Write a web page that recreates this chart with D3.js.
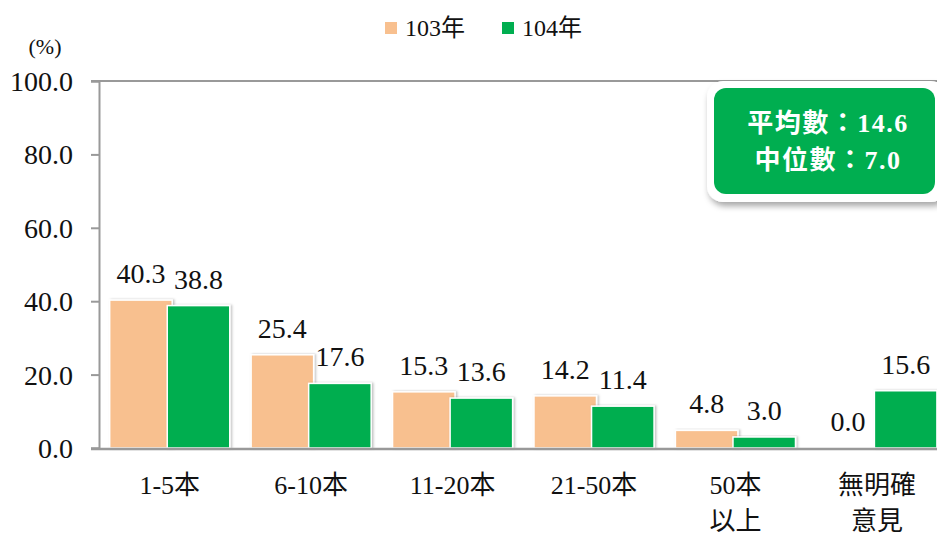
<!DOCTYPE html>
<html>
<head>
<meta charset="utf-8">
<script src="https://cdn.jsdelivr.net/npm/d3@7/dist/d3.min.js"></script>
<style>
html,body{margin:0;padding:0;background:#fff;}
svg{display:block;}
</style>
</head>
<body>
<script>
const categories = ["1-5本", "6-10本", "11-20本", "21-50本", "50本\n以上", "無明確\n意見"];
const series103 = [40.3, 25.4, 15.3, 14.2, 4.8, 0.0];
const series104 = [38.8, 17.6, 13.6, 11.4, 3.0, 15.6];
const seriesNames = ["103年", "104年"];
const yTicks = [0, 20, 40, 60, 80, 100];
const statLines = ["平均數：14.6", "中位數：7.0"];

const W = 937, H = 537;
const colors = ["#F8C08F", "#00AE50"];
const serif = "'Liberation Serif','Times New Roman','Noto Sans CJK TC',serif";
const axisColor = "#999999";

const svg = d3.select("body").append("svg").attr("width", W).attr("height", H);

const defs = svg.append("defs");
const f1 = defs.append("filter").attr("id","barShadow").attr("x","-10%").attr("y","-10%").attr("width","130%").attr("height","130%");
f1.append("feDropShadow").attr("dx",1.5).attr("dy",0).attr("stdDeviation",1.2).attr("flood-color","#000").attr("flood-opacity",0.25);
const f2 = defs.append("filter").attr("id","boxShadow").attr("x","-20%").attr("y","-20%").attr("width","140%").attr("height","150%");
f2.append("feDropShadow").attr("dx",2).attr("dy",4).attr("stdDeviation",3).attr("flood-color","#000").attr("flood-opacity",0.35);

const y = d3.scaleLinear().domain([0, 100]).range([448, 81]);
const x = d3.scaleBand().domain(categories).range([99, 947.6]).paddingInner(0).paddingOuter(0);
const bw = x.bandwidth();
const barW = bw * 0.442;
const step2 = bw * 0.407;
const off0 = (bw - (step2 + barW)) / 2;

// top border line and y ticks
svg.append("line").attr("x1",91).attr("x2",W).attr("y1",y(100)).attr("y2",y(100))
  .attr("stroke",axisColor).attr("stroke-width",2);

const yAxis = d3.axisLeft(y).tickValues(yTicks).tickFormat(d3.format(".1f")).tickSize(8).tickPadding(18);
const gy = svg.append("g").attr("transform","translate(99,0)").call(yAxis);
gy.select(".domain").attr("stroke",axisColor).attr("stroke-width",2);
gy.selectAll(".tick line").attr("stroke",axisColor).attr("stroke-width",2);
gy.selectAll(".tick text").attr("font-family",serif).attr("font-size",28).attr("fill","#111").attr("dy","0.34em");

svg.append("text").attr("x",45).attr("y",54).attr("text-anchor","middle")
  .attr("font-family",serif).attr("font-size",22).attr("fill","#111").text("(%)");

// bars
const data = [series103, series104];
data.forEach((vals, si) => {
  const g = svg.append("g");
  g.selectAll("rect").data(vals).enter().append("rect")
    .attr("x", (d,i) => x(categories[i]) + off0 + si*step2)
    .attr("y", d => y(d))
    .attr("width", barW)
    .attr("height", d => y(0) - y(d))
    .attr("fill", colors[si])
    .attr("stroke", "#fff").attr("stroke-width", 1.5)
    .attr("filter", d => d > 0 ? "url(#barShadow)" : null);
});
// labels
data.forEach((vals, si) => {
  svg.append("g").selectAll("text").data(vals).enter().append("text")
    .attr("x", (d,i) => x(categories[i]) + off0 + si*step2 + barW/2)
    .attr("y", d => y(d) - 17)
    .attr("text-anchor","middle")
    .attr("font-family",serif).attr("font-size",28).attr("fill","#111")
    .text(d => d3.format(".1f")(d));
});

// x axis baseline
svg.append("line").attr("x1",91).attr("x2",W).attr("y1",y(0)+1).attr("y2",y(0)+1)
  .attr("stroke",axisColor).attr("stroke-width",2.5);

// category labels
const xl = svg.append("g");
categories.forEach(c => {
  const lines = c.split("\n");
  const t = xl.append("text").attr("text-anchor","middle")
    .attr("font-family",serif).attr("font-size",26).attr("fill","#111");
  lines.forEach((ln, k) => {
    t.append("tspan").attr("x", x(c) + bw/2).attr("y", 494 + k*36).text(ln);
  });
});

// legend
const lg = svg.append("g");
const legendX = [385, 502];
seriesNames.forEach((n, i) => {
  lg.append("rect").attr("x", legendX[i]).attr("y", 22).attr("width", 12).attr("height", 12).attr("fill", colors[i]);
  lg.append("text").attr("x", legendX[i] + 20).attr("y", 36)
    .attr("font-family",serif).attr("font-size",24).attr("fill","#111").text(n);
});

// stat box
const box = svg.append("g");
box.append("rect").attr("x",707).attr("y",81).attr("width",240).attr("height",121).attr("rx",16)
  .attr("fill","#fff").attr("filter","url(#boxShadow)");
box.append("rect").attr("x",714).attr("y",88).attr("width",221).attr("height",106).attr("rx",12)
  .attr("fill","#00AE50");
statLines.forEach((s, i) => {
  box.append("text").attr("x",828).attr("y",132 + i*37).attr("text-anchor","middle")
    .attr("font-family","'Liberation Serif','Noto Sans CJK TC',serif").attr("font-weight","bold")
    .attr("font-size",26).attr("letter-spacing",1.5).attr("fill","#fff").text(s);
});
</script>
</body>
</html>
